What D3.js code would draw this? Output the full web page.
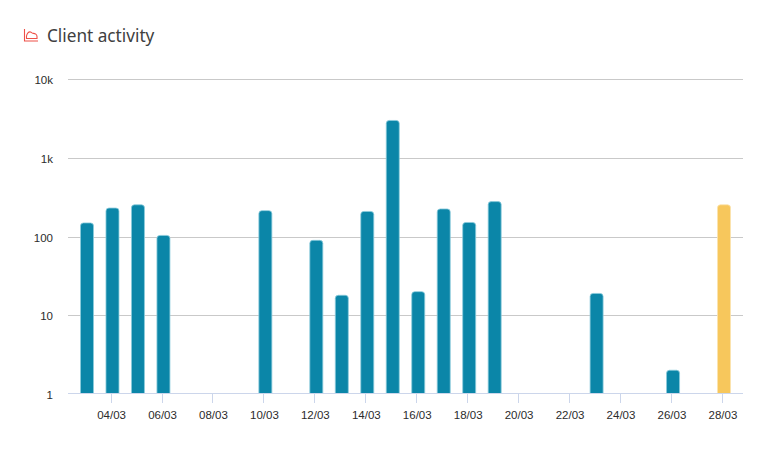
<!DOCTYPE html>
<html><head><meta charset="utf-8">
<script src="https://cdnjs.cloudflare.com/ajax/libs/d3/7.8.5/d3.min.js"></script>
<style>html,body{margin:0;background:#fff}svg{display:block}</style></head>
<body><svg id="c" width="777" height="458"></svg>
<script>
const titleText = "Client activity";
const days = ["03/03","04/03","05/03","06/03","07/03","08/03","09/03","10/03","11/03","12/03","13/03","14/03","15/03","16/03","17/03","18/03","19/03","20/03","21/03","22/03","23/03","24/03","25/03","26/03","27/03","28/03"];
const values = [150,232,255,104,null,null,null,215,null,90,18,210,3020,20,226,152,280,null,null,null,19,null,null,2,null,255];
const highlighted = ["28/03"];
const xTickLabels = ["04/03","06/03","08/03","10/03","12/03","14/03","16/03","18/03","20/03","22/03","24/03","26/03","28/03"];
const yTicks = [1,10,100,1000,10000];
const yTickLabels = ["1","10","100","1k","10k"];

const svg = d3.select("#c");
const y = d3.scaleLog().domain([1,10000]).range([393.9,79.6]);
const xBar = d3.scalePoint().domain(days).range([87,724]);
const xTick = d3.scalePoint().domain(days).range([85.6,722.4]);
const left = 68, right = 743, barW = 13;
const baseY = Math.floor(y(1))+0.5;

// title
const ic = svg.append("g").attr("transform","translate(24,29)").attr("fill","none").attr("stroke","#ee5148").attr("stroke-width",1.1);
ic.append("path").attr("d","M0.5,0V12H14");
ic.append("path").attr("d","M2.5,9.5V7C3,4.5 4.5,2.5 6.5,3C7.5,3.4 8,4.4 9,4.4C11,4.2 13,5.5 13,7.5V9.5Z");
svg.append("text").attr("x",47).attr("y",41.5).attr("font-family","'Noto Sans'").attr("font-size",17.2).attr("fill","#404040").text(titleText);

// grid
const crisp = v => Math.floor(v+0.3)+0.5;
svg.append("g").selectAll("line").data(yTicks.slice(1)).join("line")
  .attr("x1",left).attr("x2",right).attr("y1",d=>crisp(y(d))).attr("y2",d=>crisp(y(d)))
  .attr("stroke","#c9c9c9").attr("stroke-width",1);

// bars
function barPath(d){
  const cx=xBar(d.day), x0=cx-barW/2, x1=cx+barW/2, t=y(d.v), b=baseY, r=3;
  const p=d3.path();
  p.moveTo(x0,b);p.lineTo(x0,t+r);p.quadraticCurveTo(x0,t,x0+r,t);
  p.lineTo(x1-r,t);p.quadraticCurveTo(x1,t,x1,t+r);p.lineTo(x1,b);p.closePath();
  return p.toString();
}
const data = days.map((day,i)=>({day,v:values[i]})).filter(d=>d.v!=null);
svg.append("g").selectAll("path").data(data).join("path")
  .attr("d",barPath)
  .attr("fill",d=>highlighted.includes(d.day)?"#f7c75c":"#0b86a8")
  .attr("stroke",d=>highlighted.includes(d.day)?"#fbe3ae":"#8ccbdc")
  .attr("stroke-width",0.8);

// x axis
const ax = svg.append("g");
ax.append("line").attr("x1",left).attr("x2",right).attr("y1",baseY).attr("y2",baseY).attr("stroke","#ccd6eb");
ax.selectAll("line.t").data(xTickLabels).join("line").attr("class","t")
  .attr("x1",d=>Math.floor(xTick(d))+0.5).attr("x2",d=>Math.floor(xTick(d))+0.5)
  .attr("y1",baseY).attr("y2",403).attr("stroke","#ccd6eb");
ax.selectAll("text").data(xTickLabels).join("text")
  .attr("x",d=>xTick(d)+0.5).attr("y",419).attr("text-anchor","middle")
  .attr("font-family","'Liberation Sans'").attr("font-size",11.5).attr("fill","#2b2b2b").text(d=>d);

// y labels
svg.append("g").selectAll("text").data(yTicks).join("text")
  .attr("x",53).attr("y",d=>crisp(y(d))+4.5).attr("text-anchor","end")
  .attr("font-family","'Liberation Sans'").attr("font-size",11.5).attr("fill","#2b2b2b")
  .text((d,i)=>yTickLabels[i]);
</script></body></html>
